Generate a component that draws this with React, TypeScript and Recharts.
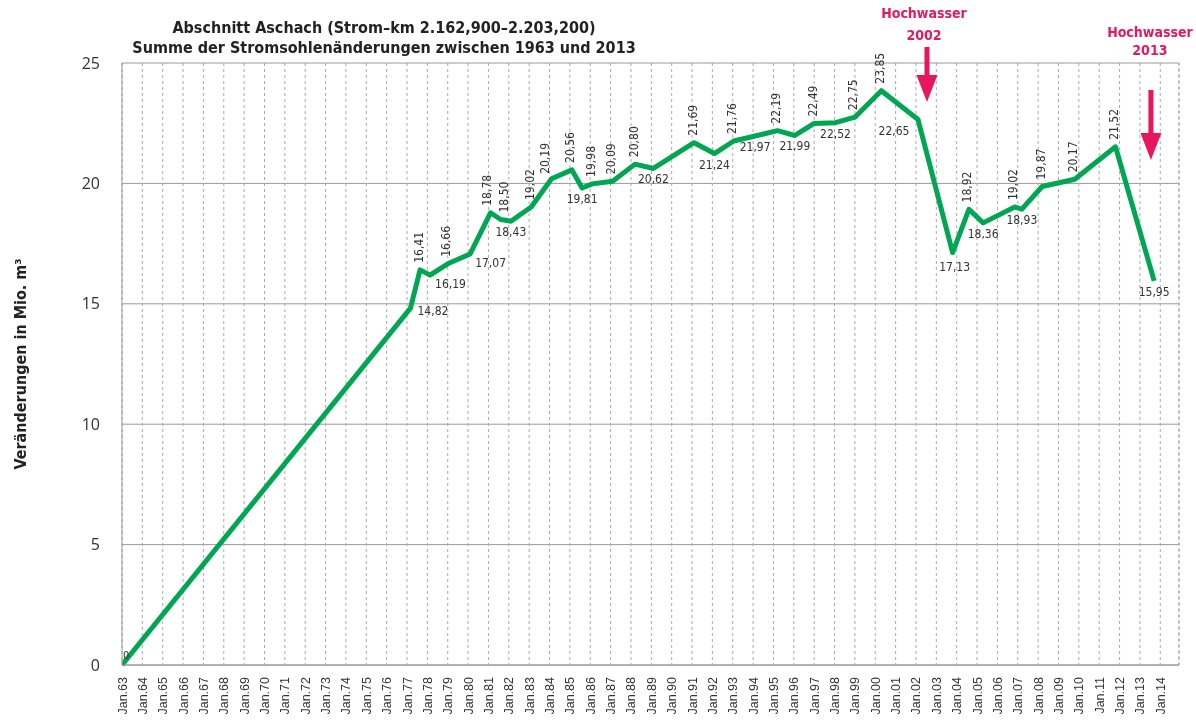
import {
  LineChart,
  Line,
  XAxis,
  YAxis,
  CartesianGrid,
  LabelList,
  Label,
  ReferenceLine,
  ReferenceDot,
} from "recharts";

// time of each survey, as decimal years
const surveyTimes = [
  1963.0, 1977.17, 1977.64, 1978.13, 1979.0, 1980.1, 1981.1, 1981.6, 1982.1,
  1983.1, 1984.1, 1985.1, 1985.6, 1986.1, 1987.1, 1988.2, 1989.1, 1991.1,
  1992.1, 1993.05, 1994.1, 1995.2, 1996.05, 1997.0, 1998.05, 1999.0, 2000.3,
  2002.1, 2003.8, 2004.6, 2005.3, 2006.85, 2007.2, 2008.2, 2009.8, 2011.8,
  2013.7,
];

// summed bed changes in Mio. m3
const bedChange = [
  0, 14.82, 16.41, 16.19, 16.66, 17.07, 18.78, 18.5, 18.43, 19.02, 20.19,
  20.56, 19.81, 19.98, 20.09, 20.8, 20.62, 21.69, 21.24, 21.76, 21.97, 22.19,
  21.99, 22.49, 22.52, 22.75, 23.85, 22.65, 17.13, 18.92, 18.36, 19.02, 18.93,
  19.87, 20.17, 21.52, 15.95,
];

// where each value label sits: a = above (rotated), b = below, r = below right, z = start
const labelSide = [
  "z", "r", "a", "r", "a", "r", "a", "a", "b", "a", "a", "a", "b", "a", "a",
  "a", "b", "a", "b", "a", "b", "a", "b", "a", "b", "a", "a", "b", "b", "a",
  "b", "a", "b", "a", "a", "a", "b",
];
const labelNudge: Record<number, [number, number]> = {
  1: [2, -6],
  6: [-2, 0],
  7: [5, 0],
  10: [-5, 2],
  27: [-24, 0],
  28: [2, 3],
};

const yTicks = [0, 5, 10, 15, 20, 25];
const yearTicks: number[] = [];
for (let yr = 1963; yr <= 2014; yr++) yearTicks.push(yr);

const floods = [
  { at: 2002.54, label: "2002" },
  { at: 2013.54, label: "2013" },
];

const data = surveyTimes.map((t, i) => ({ t, v: bedChange[i] }));

const COND = "'DejaVu Sans Condensed', 'DejaVu Sans', sans-serif";
const GREEN = "#00a651";
const PINK = "#e8175d";

function fmt(v: number) {
  if (v === 0) return "0";
  return v.toFixed(2).replace(".", ",");
}

function renderLabel(props: any) {
  const { x, y, value, index } = props;
  const side = labelSide[index];
  const [nx, ny] = labelNudge[index] || [0, 0];
  const st = {
    fontFamily: COND,
    fontStretch: "condensed",
    fontSize: 12,
    fill: "#333",
  } as any;
  if (side === "a") {
    return (
      <text
        transform={`translate(${x + 2.5 + nx},${y - 7 + ny}) rotate(-90)`}
        textAnchor="start"
        style={st}
      >
        {fmt(value)}
      </text>
    );
  }
  if (side === "r") {
    return (
      <text x={x + 5 + nx} y={y + 13 + ny} textAnchor="start" style={st}>
        {fmt(value)}
      </text>
    );
  }
  if (side === "z") {
    return (
      <text x={x + 1} y={y - 6} textAnchor="start" style={{ ...st, fontSize: 11 }}>
        {fmt(value)}
      </text>
    );
  }
  return (
    <text x={x + nx} y={y + 15 + ny} textAnchor="middle" style={st}>
      {fmt(value)}
    </text>
  );
}

function XTick(props: any) {
  const { x, y, payload } = props;
  const yy = String(payload.value % 100).padStart(2, "0");
  return (
    <text
      transform={`translate(${x},${y}) rotate(-90)`}
      x={-12}
      y={4.5}
      textAnchor="end"
      style={{ fontFamily: "'Liberation Sans', Arial, sans-serif", fontSize: 12.5, fill: "#333" }}
    >
      {"Jan." + yy}
    </text>
  );
}

function floodShape(which: number) {
  return (props: any) => {
    const { cx, cy } = props;
    const ts = {
      fontFamily: COND,
      fontStretch: "condensed",
      fontWeight: 700,
      fontSize: 14,
      fill: PINK,
    } as any;
    const g =
      which === 0
        ? { t1: -45, t2: -23, tx: -3, s0: -16, h0: 12, tip: 39 }
        : { t1: -26, t2: -8, tx: -1, s0: 27, h0: 70, tip: 97 };
    return (
      <g>
        <text x={cx + g.tx} y={cy + g.t1} textAnchor="middle" style={ts}>
          Hochwasser
        </text>
        <text x={cx + g.tx} y={cy + g.t2} textAnchor="middle" style={ts}>
          {floods[which].label}
        </text>
        <rect x={cx - 2.5} y={cy + g.s0} width={5} height={g.h0 - g.s0 + 1} fill={PINK} />
        <polygon
          points={`${cx - 10.5},${cy + g.h0} ${cx + 10.5},${cy + g.h0} ${cx},${cy + g.tip}`}
          fill={PINK}
        />
      </g>
    );
  };
}

export default function App() {
  return (
    <div style={{ position: "fixed", left: 0, top: 0, width: 1196, height: 720 }}>
      <div
        style={{
          position: "absolute",
          left: 0,
          top: 18,
          width: 768,
          textAlign: "center",
          fontFamily: COND,
          fontStretch: "condensed",
          fontWeight: 700,
          fontSize: 16,
          lineHeight: "20px",
          color: "#222",
        }}
      >
        Abschnitt Aschach (Strom–km 2.162,900–2.203,200)
        <br />
        Summe der Stromsohlenänderungen zwischen 1963 und 2013
      </div>
      <LineChart
        width={1196}
        height={720}
        data={data}
        margin={{ top: 63, right: 17, left: 0, bottom: 0 }}
      >
        <CartesianGrid vertical={false} stroke="#9a9a9a" />
        <CartesianGrid horizontal={false} stroke="#aaa" strokeDasharray="3 3" />
        <XAxis
          dataKey="t"
          type="number"
          domain={[1963, 2014.92]}
          ticks={yearTicks}
          interval={0}
          allowDataOverflow
          tick={<XTick />}
          tickLine={false}
          tickSize={0}
          tickMargin={0}
          axisLine={{ stroke: "#999" }}
          height={55}
        />
        <YAxis
          domain={[0, 25]}
          ticks={yTicks}
          width={122}
          tickLine={false}
          tickSize={0}
          tickMargin={22}
          axisLine={{ stroke: "#999" }}
          tick={{ fontFamily: "'Open Sans', sans-serif", fontSize: 16, fill: "#333" }}
        >
          <Label
            value="Veränderungen in Mio. m³"
            angle={-90}
            position="insideLeft"
            offset={20}
            style={{
              textAnchor: "middle",
              fontFamily: COND,
              fontStretch: "condensed",
              fontWeight: 700,
              fontSize: 16,
              fill: "#222",
            }}
          />
        </YAxis>
        <ReferenceLine x={2014.92} stroke="#aaa" strokeDasharray="3 3" ifOverflow="visible" />
        {floods.map((f, i) => (
          <ReferenceDot
            key={f.label}
            x={f.at}
            y={25}
            r={0}
            ifOverflow="visible"
            shape={floodShape(i)}
          />
        ))}
        <Line
          type="linear"
          dataKey="v"
          stroke={GREEN}
          strokeWidth={5}
          strokeLinejoin="round"
          dot={false}
          isAnimationActive={false}
        >
          <LabelList dataKey="v" content={renderLabel} />
        </Line>
      </LineChart>
    </div>
  );
}
